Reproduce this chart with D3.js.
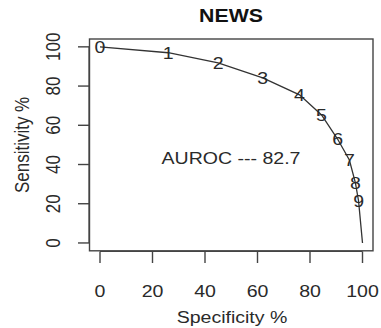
<!DOCTYPE html>
<html><head><meta charset="utf-8">
<script src="https://cdn.jsdelivr.net/npm/d3@7"></script>
<style>html,body{margin:0;padding:0;background:#fff;}svg{display:block;}</style>
</head><body>
<script>
const thresholdLabels = ["0","1","2","3","4","5","6","7","8","9",""];
const specificity = [0, 26, 45, 62, 76, 84.4, 90.5, 95, 97.3, 98.5, 100];
const sensitivity = [100, 97, 91.8, 84.2, 75.5, 65.3, 53, 42.3, 30.6, 21.4, 0];
const xTicks = [0, 20, 40, 60, 80, 100];
const yTicks = [0, 20, 40, 60, 80, 100];
const title = "NEWS";
const xTitle = "Specificity %";
const yTitle = "Sensitivity %";
const annotation = "AUROC --- 82.7";

const W = 381, H = 328;
const stretch = 1.15;
const font = "'Liberation Sans', Arial, sans-serif";
const ink = "#2a2a2a";
const svg = d3.select("body").append("svg").attr("width", W).attr("height", H);

const x = d3.scaleLinear().domain([-4, 104]).range([89.5, 373]);
const y = d3.scaleLinear().domain([-4, 104]).range([250.8, 39]);

function txt(px, py, s, opts = {}) {
  const rot = opts.rotate ? ` rotate(${opts.rotate})` : "";
  return svg.append("text")
    .attr("transform", `translate(${px},${py}) scale(${stretch},1)${rot}`)
    .attr("text-anchor", opts.anchor || "middle")
    .attr("dominant-baseline", opts.baseline || "alphabetic")
    .attr("font-family", font)
    .attr("font-size", opts.size || 17)
    .attr("font-weight", opts.weight || "normal")
    .attr("fill", opts.fill || ink)
    .text(s);
}

// box
svg.append("rect")
  .attr("x", x(-4)).attr("y", y(104))
  .attr("width", x(104) - x(-4)).attr("height", y(-4) - y(104))
  .attr("fill", "none").attr("stroke", "#444").attr("stroke-width", 1.4);

// x axis (R style)
const xAxisY = 251.5;
svg.append("line").attr("x1", x(0)).attr("x2", x(100)).attr("y1", xAxisY).attr("y2", xAxisY)
  .attr("stroke", "#444").attr("stroke-width", 1.2);
svg.selectAll(".xt").data(xTicks).enter().append("line")
  .attr("x1", d => x(d)).attr("x2", d => x(d)).attr("y1", xAxisY).attr("y2", 263)
  .attr("stroke", "#444").attr("stroke-width", 1.4);
xTicks.forEach(d => txt(x(d), 297, d));

// y axis
const yAxisX = 89;
svg.append("line").attr("x1", yAxisX).attr("x2", yAxisX).attr("y1", y(0)).attr("y2", y(100))
  .attr("stroke", "#444").attr("stroke-width", 1.2);
svg.selectAll(".yt").data(yTicks).enter().append("line")
  .attr("y1", d => y(d)).attr("y2", d => y(d)).attr("x1", 78).attr("x2", yAxisX)
  .attr("stroke", "#444").attr("stroke-width", 1.4);
yTicks.forEach(d => txt(60, y(d), d, {rotate: -90}));

// titles
txt(231, 22, title, {size: 18.5, weight: "bold", fill: "#111"});
txt(232, 323, xTitle);
txt(29, (y(-4) + y(104)) / 2, yTitle, {rotate: -90});

// curve
const pts = specificity.map((s, i) => ({s, v: sensitivity[i], lab: thresholdLabels[i]}));
svg.append("path").datum(pts)
  .attr("d", d3.line().x(d => x(d.s)).y(d => y(d.v)))
  .attr("fill", "none").attr("stroke", "#333").attr("stroke-width", 1.3);

pts.filter(d => d.lab !== "").forEach(d => txt(x(d.s), y(d.v), d.lab, {baseline: "central"}));

// annotation
txt(231, 164, annotation);
</script>
</body></html>
